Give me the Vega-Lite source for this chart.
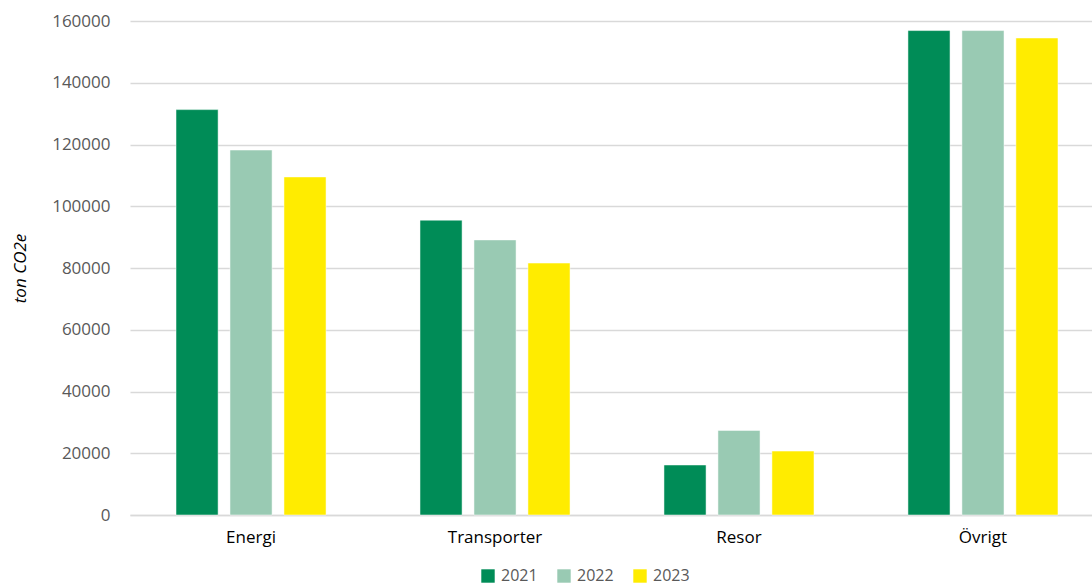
{
  "$schema": "https://vega.github.io/schema/vega-lite/v6.json",
  "width": 962,
  "height": 494,
  "autosize": "none",
  "padding": {"left": 130, "top": 21, "right": 0, "bottom": 72},
  "background": "white",
  "config": {
    "view": {"stroke": null},
    "font": "Open Sans"
  },
  "data": {
    "values": [
      {"kategori": "Energi", "år": "2021", "värde": 131300},
      {"kategori": "Energi", "år": "2022", "värde": 118200},
      {"kategori": "Energi", "år": "2023", "värde": 109500},
      {"kategori": "Transporter", "år": "2021", "värde": 95500},
      {"kategori": "Transporter", "år": "2022", "värde": 89100},
      {"kategori": "Transporter", "år": "2023", "värde": 81600},
      {"kategori": "Resor", "år": "2021", "värde": 16200},
      {"kategori": "Resor", "år": "2022", "värde": 27400},
      {"kategori": "Resor", "år": "2023", "värde": 20700},
      {"kategori": "Övrigt", "år": "2021", "värde": 156900},
      {"kategori": "Övrigt", "år": "2022", "värde": 156900},
      {"kategori": "Övrigt", "år": "2023", "värde": 154500}
    ]
  },
  "mark": {"type": "bar", "stroke": "white", "strokeWidth": 0.5},
  "encoding": {
    "x": {
      "field": "kategori",
      "type": "nominal",
      "sort": ["Energi", "Transporter", "Resor", "Övrigt"],
      "scale": {"paddingInner": 0.385, "paddingOuter": 0.164, "align": 0.575},
      "axis": {
        "title": null,
        "labelAngle": 0,
        "labelFontSize": 17,
        "labelColor": "#000000",
        "labelPadding": 14,
        "ticks": false,
        "domainColor": "#d9d9d9",
        "domainWidth": 1.3
      }
    },
    "xOffset": {
      "field": "år",
      "type": "nominal",
      "scale": {"paddingInner": 0.22, "paddingOuter": 0}
    },
    "y": {
      "field": "värde",
      "type": "quantitative",
      "scale": {"domain": [0, 160000], "nice": false},
      "axis": {
        "title": "ton CO2e",
        "titleFontStyle": "italic",
        "titleFontWeight": "normal",
        "titleFontSize": 17,
        "titleColor": "#000000",
        "titlePadding": 22,
        "values": [0, 20000, 40000, 60000, 80000, 100000, 120000, 140000, 160000],
        "format": "d",
        "labelFontSize": 17,
        "labelColor": "#595959",
        "labelPadding": 20,
        "ticks": false,
        "domain": false,
        "gridColor": "#d9d9d9",
        "gridWidth": 1.3
      }
    },
    "color": {
      "field": "år",
      "type": "nominal",
      "scale": {"domain": ["2021", "2022", "2023"], "range": ["#008c57", "#99cab3", "#ffec00"]},
      "legend": {
        "title": null,
        "orient": "none",
        "direction": "horizontal",
        "legendX": 350,
        "legendY": 547,
        "symbolType": "square",
        "symbolSize": 180,
        "symbolStrokeWidth": 0,
        "labelFontSize": 16,
        "labelColor": "#595959",
        "columnPadding": 18,
        "labelOffset": 5
      }
    }
  }
}
